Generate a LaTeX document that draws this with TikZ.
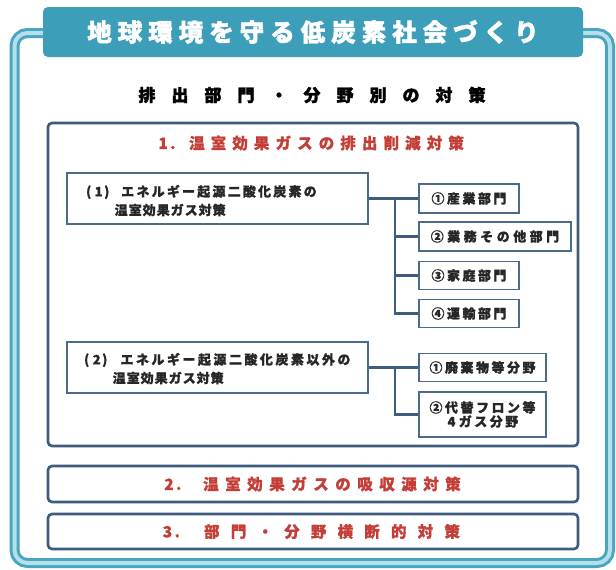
\documentclass[tikz,border=0pt]{standalone}
\usepackage{fontspec}
\newfontfamily\jp{Noto Sans CJK JP}[BoldFeatures={FakeBold=0.8}]
\newfontfamily\jpt{Noto Sans CJK JP}[BoldFeatures={FakeBold=1.8}]
\definecolor{bannerC}{HTML}{3C9EB9}
\definecolor{frameT}{HTML}{4AA6C0}
\definecolor{frameL}{HTML}{B5DFEB}
\definecolor{navy}{HTML}{3D5C7E}
\definecolor{navyB}{HTML}{4C6A8C}
\definecolor{redT}{HTML}{C43E38}
\definecolor{ink}{HTML}{262626}
\newcommand\ptx[2]{\def\ptxw{#1}\ptxloop#2\ptxstop}
\def\ptxstop{ptxstop}
\def\ptxloop#1{\ifx\ptxstop#1\else\makebox[\ptxw]{#1}\expandafter\ptxloop\fi}
\tikzset{
  sbox/.style={draw=navyB, line width=1.8pt, fill=white, inner sep=0pt,
    text=ink, font=\jp\bfseries\fontsize{13}{15}\selectfont, align=center},
  conn/.style={draw=navy, line width=2.6pt},
  bigbox/.style={draw=navy, line width=2.6pt, rounded corners=4pt, inner sep=0pt,
    minimum width=530pt, fill=white},
  redh/.style={text=redT, font=\jp\bfseries\fontsize{15.5}{18}\selectfont, inner sep=0pt},
  btxt/.style={text=ink, font=\jp\bfseries\fontsize{13}{15}\selectfont, inner sep=0pt, anchor=west},
}
\begin{document}
\begin{tikzpicture}[x=1pt,y=-1pt]
\useasboundingbox (0,0) rectangle (616,570);
\fill[white] (0,0) rectangle (616,570);
% outer frame
\draw[frameT, line width=10pt, rounded corners=13pt] (14.5,33) rectangle (610,563);
\draw[frameL, line width=4pt, rounded corners=13pt] (14.5,33) rectangle (610,563);
% banner
\node[fill=bannerC, rounded corners=5pt, minimum width=540pt, minimum height=50pt,
  inner sep=0pt, text=white, font=\jpt\bfseries\fontsize{24.5}{26}\selectfont] (title) at (313,32)
  {\ptx{30.5pt}{地球環境を守る低炭素社会づくり}};
% subtitle
\node[text=black, font=\jpt\bfseries\fontsize{17}{18}\selectfont, inner sep=0pt] (sub) at (312,95)
  {\ptx{33pt}{排出部門・分野別の対策}};
% big box 1
\node[bigbox, minimum height=323pt] (g1) at (313,284.5) {};
\node[redh] (g1t) at (311.5,143)
  {\makebox[14pt]{1}\makebox[16pt][l]{.}\ptx{21.6pt}{温室効果ガスの排出削減対策}};
% box 2, 3
\node[bigbox, minimum height=36pt, redh] (g2) at (313,484)
  {\makebox[14pt]{2}\makebox[24pt][l]{.}\ptx{22pt}{温室効果ガスの吸収源対策}};
\node[bigbox, minimum height=35pt, redh] (g3) at (313,531.5)
  {\makebox[14pt]{3}\makebox[24pt][l]{.}\ptx{26.7pt}{部門・分野横断的対策}};
% left boxes
\node[sbox, minimum width=301pt, minimum height=51pt] (b1) at (217.5,198.5) {};
\node[btxt] (b1a) at (84,192)
  {\makebox[9pt]{(}\makebox[11pt]{1}\makebox[16pt][l]{)}\ptx{15.2pt}{エネルギー起源二酸化炭素の}};
\node[btxt] (b1b) at (114,210) {\ptx{14pt}{温室効果ガス対策}};
\node[sbox, minimum width=301pt, minimum height=51pt] (b2) at (217.5,367.5) {};
\node[btxt] (b2a) at (82,360)
  {\makebox[9pt]{(}\makebox[11pt]{2}\makebox[17pt][l]{)}\ptx{15.5pt}{エネルギー起源二酸化炭素以外の}};
\node[btxt] (b2b) at (112,378) {\ptx{14pt}{温室効果ガス対策}};
% right boxes
\node[sbox, minimum width=100pt, minimum height=29pt] (s1) at (469,198.5) {\ptx{15.5pt}{①産業部門}};
\node[sbox, minimum width=152pt, minimum height=29pt] (s2) at (495,236.5) {\ptx{16.5pt}{②業務その他部門}};
\node[sbox, minimum width=100pt, minimum height=28pt] (s3) at (469,275.5) {\ptx{15.5pt}{③家庭部門}};
\node[sbox, minimum width=100pt, minimum height=28pt] (s4) at (469,313.5) {\ptx{15.5pt}{④運輸部門}};
\node[sbox, minimum width=127pt, minimum height=28pt] (t1) at (482.5,367.5) {\ptx{15.5pt}{①廃棄物等分野}};
\node[sbox, minimum width=127pt, minimum height=45pt] (t2) at (482.5,414.5)
  {\ptx{15.5pt}{②代替フロン等}\\[-1pt]\makebox[12pt]{4}\ptx{15.5pt}{ガス分野}};
% connectors
\coordinate (j1) at (395,198.5);
\coordinate (j2) at (395,367.5);
\draw[conn] (b1.east) -- (s1.west);
\draw[conn] (j1) |- (s4.west);
\draw[conn] (j1 |- s2.west) -- (s2.west);
\draw[conn] (j1 |- s3.west) -- (s3.west);
\draw[conn] (b2.east) -- (t1.west);
\draw[conn] (j2) |- (t2.west);
\end{tikzpicture}
\end{document}
